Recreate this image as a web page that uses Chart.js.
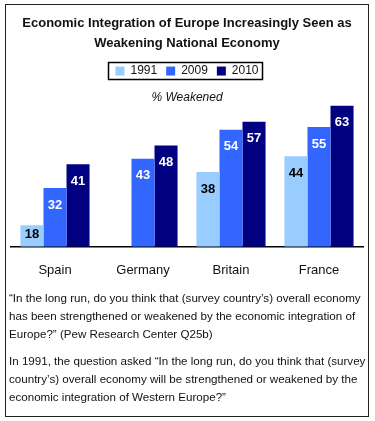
<!DOCTYPE html>
<html>
<head>
<meta charset="utf-8">
<script src="https://cdn.jsdelivr.net/npm/chart.js@4"></script>
<style>
  html, body { margin: 0; padding: 0; background: #fff; }
  body { width: 375px; height: 421px; position: relative; overflow: hidden; }
  #frame { position: absolute; left: 5px; top: 4px; width: 362px; height: 411px; border: 1px solid #222; }
  #wrap { position: absolute; left: 0px; top: 0px; width: 362px; height: 295px; }
  #notes { position: absolute; left: 3px; top: 284px; font-family: "Liberation Sans", Arial, sans-serif; font-size: 11.6px; line-height: 18px; color: #111; white-space: nowrap; }
  #notes p { margin: 0 0 9px 0; }
</style>
</head>
<body>
<div id="frame">
  <div id="wrap"><canvas id="c"></canvas></div>
  <div id="notes">
    <p>“In the long run, do you think that (survey country’s) overall economy<br>has been strengthened or weakened by the economic integration of<br>Europe?” (Pew Research Center Q25b)</p>
    <p>In 1991, the question asked “In the long run, do you think that (survey<br>country’s) overall economy will be strengthened or weakened by the<br>economic integration of Western Europe?”</p>
  </div>
</div>
<script>
const titleLines = ["Economic Integration of Europe Increasingly Seen as", "Weakening National Economy"];
const subtitleText = "% Weakened";
const categories = ["Spain", "Germany", "Britain", "France"];
const seriesNames = ["1991", "2009", "2010"];
const values1991 = [18, null, 38, 44];
const values2009 = [32, 43, 54, 55];
const values2010 = [41, 48, 57, 63];
const seriesColors = ["#99CCFF", "#3366FF", "#000080"];
const labelColors = ["#000000", "#FFFFFF", "#FFFFFF"];

const FONT = '"Liberation Sans", Arial, sans-serif';

const legendBoxPlugin = {
  id: 'legendBox',
  afterDraw(chart) {
    const lg = chart.legend;
    if (!lg || !lg.legendHitBoxes || !lg.legendHitBoxes.length) return;
    const hb = lg.legendHitBoxes;
    let l = Infinity, r = -Infinity, t = Infinity, b = -Infinity;
    hb.forEach(h => { l = Math.min(l, h.left); r = Math.max(r, h.left + h.width); t = Math.min(t, h.top); b = Math.max(b, h.top + h.height); });
    const ctx = chart.ctx;
    ctx.save();
    ctx.strokeStyle = '#000';
    ctx.lineWidth = 1.5;
    ctx.strokeRect(Math.round(l - 7) + 0.5, Math.round(t - 3) + 0.5, Math.round(r - l + 11), Math.round(b - t + 5));
    ctx.restore();
  }
};

const valueLabelPlugin = {
  id: 'valueLabels',
  afterDatasetsDraw(chart) {
    const ctx = chart.ctx;
    const bottom = chart.chartArea.bottom;
    ctx.save();
    ctx.font = 'bold 13px ' + FONT;
    ctx.textAlign = 'center';
    ctx.textBaseline = 'middle';
    chart.data.datasets.forEach((ds, di) => {
      const meta = chart.getDatasetMeta(di);
      meta.data.forEach((el, i) => {
        const v = ds.data[i];
        if (v === null || v === undefined) return;
        let y = el.y + 17;
        y = Math.min(y, bottom - 12);
        ctx.fillStyle = labelColors[di];
        ctx.fillText(String(v), el.x, y);
      });
    });
    ctx.restore();
  }
};

const seriesData = [values1991, values2009, values2010];

new Chart(document.getElementById('c'), {
  type: 'bar',
  data: {
    labels: categories,
    datasets: seriesNames.map((n, i) => ({
      label: n,
      data: seriesData[i],
      backgroundColor: seriesColors[i],
      borderWidth: 0,
      categoryPercentage: 0.785,
      barPercentage: 1.0
    }))
  },
  options: {
    responsive: true,
    maintainAspectRatio: false,
    animation: false,
    devicePixelRatio: 1,
    layout: { padding: { left: 5, right: 5, top: 0, bottom: 6 } },
    plugins: {
      tooltip: { enabled: false },
      title: {
        display: true,
        text: titleLines,
        color: '#111',
        font: { family: FONT, size: 13, weight: 'bold', lineHeight: 1.54 },
        padding: { top: 8, bottom: 3 }
      },
      legend: {
        display: true,
        position: 'top',
        weight: 1800,
        labels: {
          boxWidth: 9,
          boxHeight: 9,
          padding: 9,
          color: '#111',
          font: { family: FONT, size: 12 }
        }
      },
      subtitle: {
        display: true,
        text: subtitleText,
        weight: 500,
        color: '#111',
        font: { family: FONT, size: 12, style: 'italic' },
        padding: { top: 3, bottom: 0 }
      }
    },
    scales: {
      x: {
        grid: { display: false, drawTicks: false },
        border: { display: true, color: '#000', width: 1.5 },
        ticks: { color: '#111', font: { family: FONT, size: 13 }, padding: 16 }
      },
      y: {
        display: false,
        min: 10,
        max: 63.5
      }
    }
  },
  plugins: [legendBoxPlugin, valueLabelPlugin]
});
</script>
</body>
</html>
